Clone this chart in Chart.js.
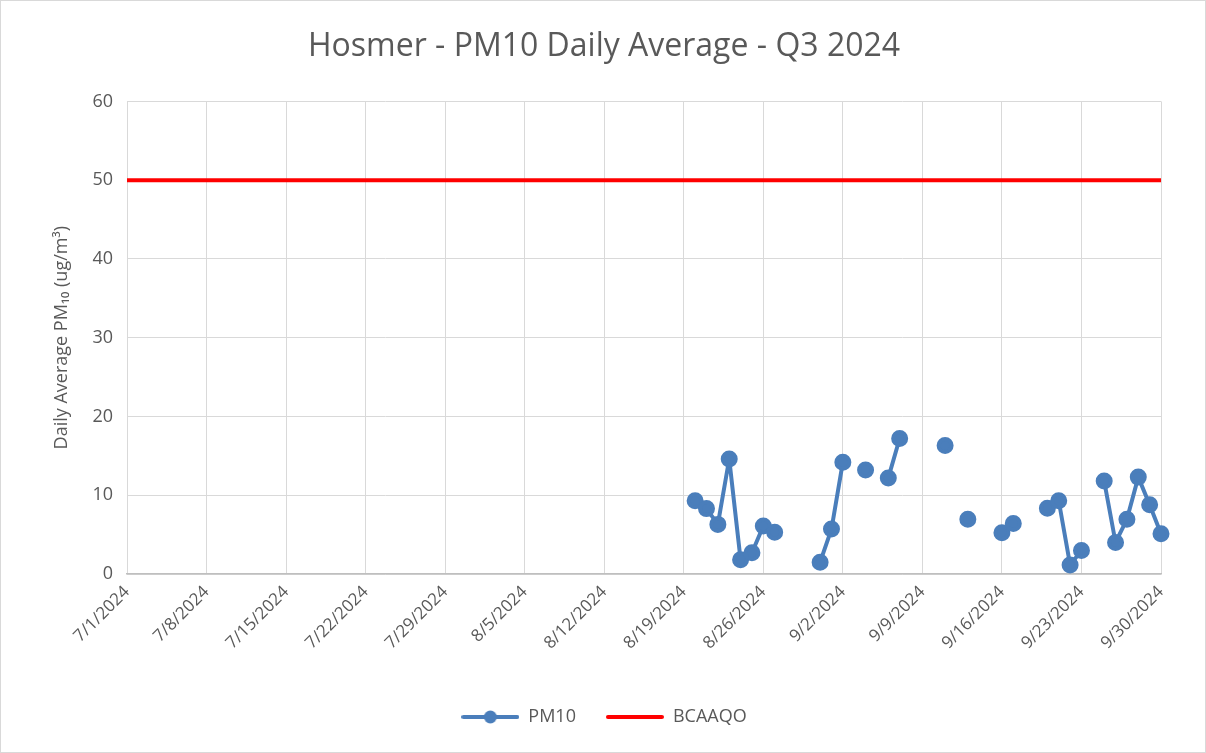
<!DOCTYPE html>
<html>
<head>
<meta charset="utf-8">
<script src="https://cdn.jsdelivr.net/npm/chart.js@4"></script>
<style>
html, body { margin: 0; padding: 0; background: #fff; }
#wrap { width: 1206px; height: 753px; position: relative; box-sizing: border-box; border: 1px solid #d9d9d9; }
</style>
</head>
<body>
<div id="wrap"><canvas id="myChart" width="1204" height="751"></canvas></div>
<script>
// PM10 readings (date, ug/m3)
const pmDates = ["8/20/2024","8/21/2024","8/22/2024","8/23/2024","8/24/2024","8/25/2024","8/26/2024","8/27/2024",
  "8/31/2024","9/1/2024","9/2/2024","9/4/2024","9/6/2024","9/7/2024","9/11/2024","9/13/2024",
  "9/16/2024","9/17/2024","9/20/2024","9/21/2024","9/22/2024","9/23/2024","9/25/2024","9/26/2024",
  "9/27/2024","9/28/2024","9/29/2024","9/30/2024"];
const pmValues = [9.3, 8.3, 6.3, 14.6, 1.8, 2.7, 6.1, 5.3,
  1.5, 5.7, 14.2, 13.2, 12.2, 17.2, 16.3, 6.95,
  5.25, 6.4, 8.35, 9.3, 1.15, 2.97, 11.8, 4.0,
  6.95, 12.3, 8.8, 5.1];
const objective = 50;
const startDate = "7/1/2024";
const endDate = "9/30/2024";
const yTicks = [0, 10, 20, 30, 40, 50, 60];

const DAY = 86400000;
function toDate(s) { let p = s.split("/"); return new Date(+p[2], +p[0] - 1, +p[1]); }
function dayIndex(s) { return Math.round((toDate(s) - toDate(startDate)) / DAY); }
function dayLabel(n) {
  let d = new Date(toDate(startDate).getTime() + n * DAY + 12 * 3600000);
  return (d.getMonth() + 1) + "/" + d.getDate() + "/" + d.getFullYear();
}
const lastDay = dayIndex(endDate);

// consecutive days join up, missing days leave a gap
var pm10 = [];
pmDates.forEach(function(s, i){
  let x = dayIndex(s);
  if (i > 0 && x - dayIndex(pmDates[i - 1]) > 1) pm10.push({ x: x - 0.5, y: null });
  pm10.push({ x: x, y: pmValues[i] });
});
var bcaaqo = [{ x: 0, y: objective }, { x: lastDay, y: objective }];

const blue = "#4A7EBB";
const red = "#FF0000";

function legendIcon(color, dot) {
  let c = document.createElement("canvas");
  c.width = 58; c.height = 14;
  let g = c.getContext("2d");
  g.strokeStyle = color; g.lineWidth = 4; g.lineCap = "round";
  g.beginPath(); g.moveTo(2, 7); g.lineTo(56, 7); g.stroke();
  if (dot) { g.fillStyle = color; g.beginPath(); g.arc(29, 7, 6.5, 0, Math.PI * 2); g.fill(); }
  return c;
}
var icons = [legendIcon(blue, true), legendIcon(red, false)];

var ctx = document.getElementById("myChart");
var myChart = new Chart(ctx, {
  type: "line",
  data: {
    datasets: [{
      label: "PM10",
      data: pm10,
      borderColor: blue,
      backgroundColor: blue,
      borderWidth: 4,
      borderJoinStyle: "round",
      pointRadius: 6.5,
      pointHoverRadius: 6.5,
      spanGaps: false,
      clip: false,
      tension: 0
    }, {
      label: "BCAAQO",
      data: bcaaqo,
      borderColor: red,
      backgroundColor: red,
      borderWidth: 4,
      pointRadius: 0
    }]
  },
  options: {
    responsive: false,
    animation: false,
    layout: { padding: { left: 46, right: 44, top: 27, bottom: 16 } },
    plugins: {
      title: {
        display: true,
        text: "Hosmer - PM10 Daily Average - Q3 2024",
        color: "#595959",
        font: { family: "'Open Sans', sans-serif", size: 32, weight: "normal" },
        padding: { top: 0, bottom: 35 }
      },
      legend: {
        position: "bottom",
        labels: {
          usePointStyle: true,
          pointStyleWidth: 58,
          color: "#595959",
          font: { family: "'Open Sans', sans-serif", size: 18 },
          padding: 30,
          generateLabels: function(chart) {
            return chart.data.datasets.map(function(ds, i){
              return { text: ds.label, pointStyle: icons[i], fontColor: "#595959", datasetIndex: i, hidden: false, lineWidth: 0 };
            });
          }
        }
      },
      tooltip: { enabled: false }
    },
    scales: {
      x: {
        type: "linear",
        min: 0,
        max: lastDay,
        grid: { color: "#d9d9d9", drawTicks: false },
        border: { color: "#bfbfbf", width: 1.5 },
        afterBuildTicks: function(s){
          let t = [];
          for (let n = 0; n <= lastDay; n += 7) t.push({ value: n });
          s.ticks = t;
        },
        ticks: {
          autoSkip: false,
          maxRotation: 45,
          minRotation: 45,
          padding: 8,
          color: "#595959",
          font: { family: "'Open Sans', sans-serif", size: 17 },
          callback: function(v){ return dayLabel(v); }
        },
        afterFit: function(s){ s.height = 104; }
      },
      y: {
        min: 0,
        max: 60,
        afterBuildTicks: function(s){ s.ticks = yTicks.map(function(v){ return { value: v }; }); },
        grid: { color: "#d9d9d9", drawTicks: false },
        border: { display: false },
        ticks: {
          padding: 14,
          color: "#595959",
          font: { family: "'Open Sans', sans-serif", size: 18 }
        },
        title: {
          display: true,
          text: "Daily Average PM\u2081\u2080 (ug/m\u00B3)",
          color: "#595959",
          font: { family: "'Open Sans', sans-serif", size: 18 },
          padding: { bottom: 6 }
        },
        afterFit: function(s){ s.width = 80; }
      }
    }
  }
});
</script>
</body>
</html>
